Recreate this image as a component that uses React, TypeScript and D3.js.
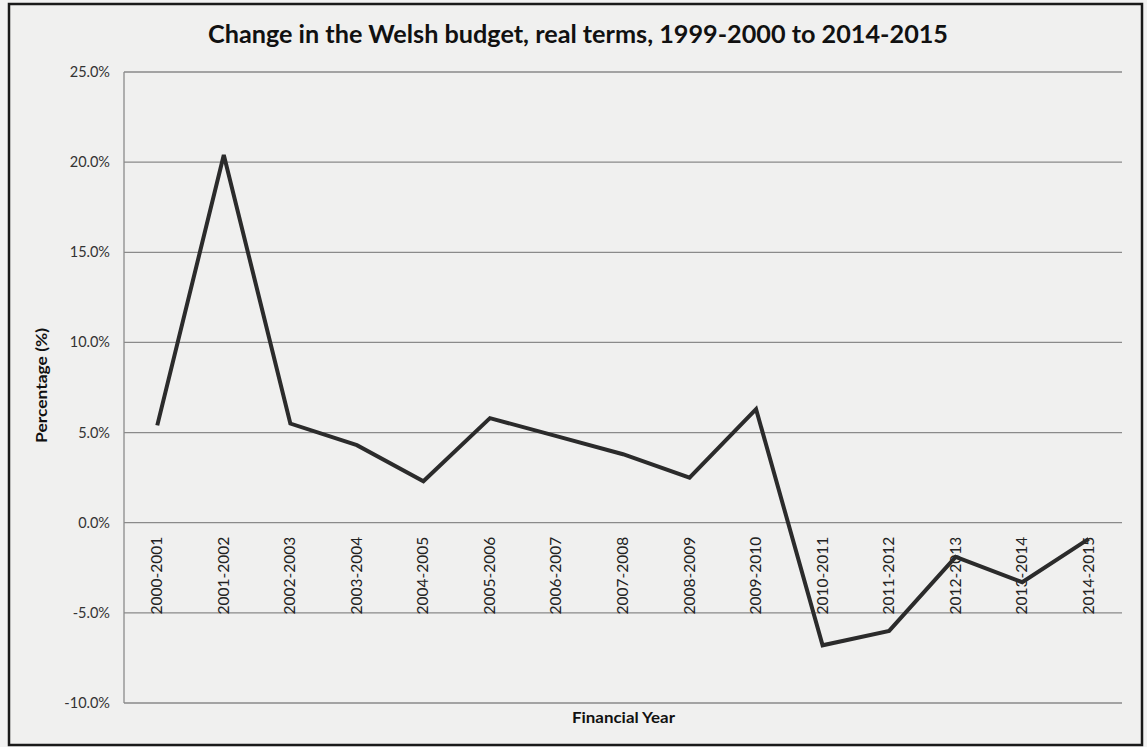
import React from "react";
import * as d3 from "d3";

const categories = [
  "2000-2001", "2001-2002", "2002-2003", "2003-2004", "2004-2005",
  "2005-2006", "2006-2007", "2007-2008", "2008-2009", "2009-2010",
  "2010-2011", "2011-2012", "2012-2013", "2013-2014", "2014-2015",
];
const changeValues = [5.4, 20.4, 5.5, 4.3, 2.3, 5.8, 4.8, 3.8, 2.5, 6.3, -6.8, -6.0, -1.9, -3.3, -0.9];
const yTicks = [25, 20, 15, 10, 5, 0, -5, -10];

const W = 1147;
const H = 747;
const plot = { left: 124, right: 1122, top: 72, bottom: 703 };
const FONT = "Lato, 'Open Sans', sans-serif";

export default function App() {
  const x = d3.scaleBand<string>().domain(categories).range([plot.left, plot.right]);
  const y = d3.scaleLinear().domain([-10, 25]).range([plot.bottom, plot.top]);
  const line = d3
    .line<number>()
    .x((_, i) => (x(categories[i]) as number) + x.bandwidth() / 2)
    .y((d) => y(d));

  return (
    <div style={{ position: "absolute", left: 0, top: 0 }}>
      <svg width={W} height={H} style={{ display: "block" }}>
        <rect x={0} y={0} width={W} height={H} fill="#f2f2f2" />
        <rect x={9} y={4} width={1133} height={741} fill="#f0f0ef" stroke="#1a1a1a" strokeWidth={2.5} />
        <text
          x={208}
          y={43}
          textLength={740}
          lengthAdjust="spacingAndGlyphs"
          fontFamily={FONT}
          fontWeight="bold"
          fontSize={24}
          fill="#111"
        >
          Change in the Welsh budget, real terms, 1999-2000 to 2014-2015
        </text>
        {yTicks.map((t) => (
          <g key={t}>
            <line x1={plot.left} x2={plot.right} y1={y(t)} y2={y(t)} stroke="#8a8a8a" strokeWidth={1.3} />
            <text x={110} y={y(t) + 5} textAnchor="end" fontFamily={FONT} fontSize={14.5} fill="#333">
              {t.toFixed(1) + "%"}
            </text>
          </g>
        ))}
        <line x1={plot.left} x2={plot.left} y1={plot.top} y2={plot.bottom} stroke="#8a8a8a" strokeWidth={1.3} />
        {categories.map((c) => {
          const cx = (x(c) as number) + x.bandwidth() / 2;
          return (
            <text
              key={c}
              transform={`translate(${cx + 5},${y(0) + 14}) rotate(-90)`}
              textAnchor="end"
              fontFamily={FONT}
              fontSize={15.5}
              fill="#222"
            >
              {c}
            </text>
          );
        })}
        <path d={line(changeValues) || ""} fill="none" stroke="#2b2b2b" strokeWidth={4} strokeLinejoin="miter" />
        <text
          transform={`translate(47,443) rotate(-90)`}
          textLength={115}
          lengthAdjust="spacingAndGlyphs"
          fontFamily={FONT}
          fontWeight="bold"
          fontSize={15}
          fill="#111"
        >
          Percentage (%)
        </text>
        <text
          x={572}
          y={723}
          textLength={103}
          lengthAdjust="spacingAndGlyphs"
          fontFamily={FONT}
          fontWeight="bold"
          fontSize={15}
          fill="#111"
        >
          Financial Year
        </text>
      </svg>
    </div>
  );
}
